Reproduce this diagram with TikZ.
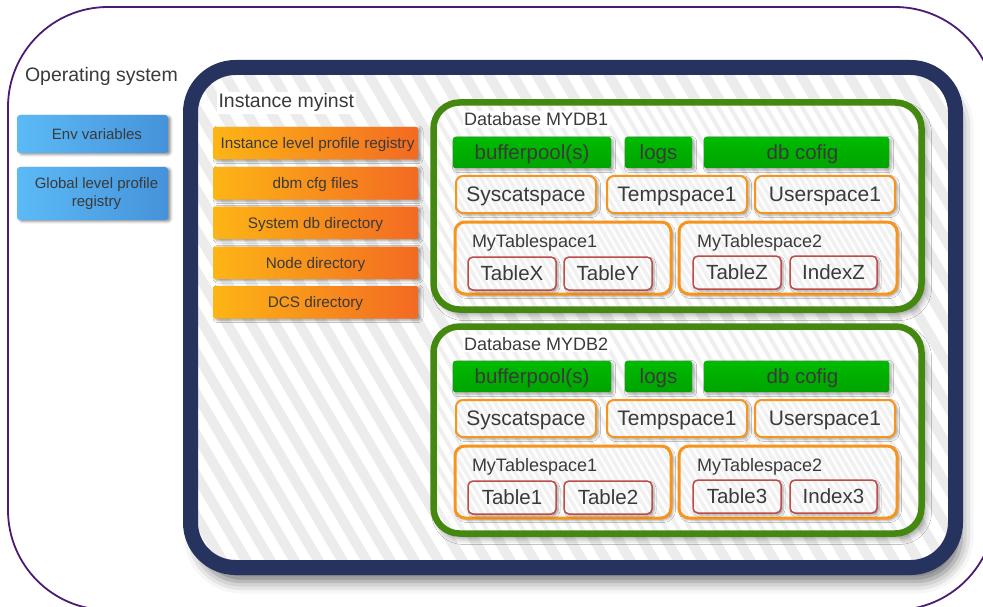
\documentclass[tikz,border=0pt]{standalone}
\usepackage{fontspec}
\setmainfont{Liberation Sans}
\usetikzlibrary{shadows.blur,calc}

\definecolor{ospurple}{HTML}{4B1C73}
\definecolor{navy}{HTML}{27335F}
\definecolor{dbgreen}{HTML}{44880F}
\definecolor{greenA}{HTML}{00BB00}
\definecolor{greenB}{HTML}{00A300}
\definecolor{blueA}{HTML}{5CBAF6}
\definecolor{blueB}{HTML}{4592DA}
\definecolor{orangeA}{HTML}{FDB515}
\definecolor{orangeB}{HTML}{F36A22}
\definecolor{tsorange}{HTML}{F7941E}
\definecolor{tabred}{HTML}{BF4B48}
\definecolor{txtdark}{HTML}{3A3A3A}
\definecolor{stripegray}{HTML}{ECECEC}
\definecolor{paleband}{HTML}{EFEFEF}
\definecolor{boxgray}{HTML}{F1F1F1}

% diagonal hatching drawn inside the current path picture:
% #1 period, #2 stripe width, #3 colour, #4..#5 index range
\newcommand\stripefill[5]{%
  \foreach \k in {#4,...,#5}
    \draw[#3, line width=#2]
      ($(path picture bounding box.north west)+(\k*#1,-10)$) -- ++(600,1020);}

\begin{document}
\begin{tikzpicture}[x=1pt, y=-1pt,
  every node/.style={text=txtdark, inner sep=0pt, outer sep=0pt},
  osframe/.style={draw=ospurple, line width=1.8pt, rounded corners=100pt},
  biglabel/.style={anchor=base west, font=\fontsize{19.5}{22}\selectfont},
  osbox/.style={anchor=north west, rounded corners=3pt, left color=blueA, right color=blueB,
    minimum width=151pt, align=center, font=\fontsize{15}{18}\selectfont,
    blur shadow={shadow xshift=2.5pt, shadow yshift=-1.5pt, shadow blur radius=2.5pt, shadow opacity=45}},
  instbox/.style={anchor=north west, draw=navy, line width=15pt, fill=white, rounded corners=45pt,
    path picture={\stripefill{24}{10pt}{stripegray}{-14}{33}},
    blur shadow={shadow xshift=6pt, shadow yshift=-14pt, shadow blur radius=12pt, shadow opacity=55}},
  instlabel/.style={anchor=base west, fill=white, inner sep=2pt, font=\fontsize{19.5}{22}\selectfont},
  cfgbox/.style={anchor=north west, rounded corners=2pt, left color=orangeA, right color=orangeB,
    minimum width=205pt, minimum height=32.5pt, text depth=0pt, font=\fontsize{15.3}{18}\selectfont,
    blur shadow={shadow xshift=2.5pt, shadow yshift=-1.5pt, shadow blur radius=2.5pt, shadow opacity=40}},
  dbbox/.style={anchor=north west, draw=dbgreen, line width=6.5pt, fill=white, rounded corners=26pt,
    minimum width=488pt, minimum height=207pt,
    path picture={\stripefill{12}{4pt}{paleband}{-12}{43}},
    blur shadow={shadow xshift=4pt, shadow yshift=-5pt, shadow blur radius=6pt, shadow opacity=40}},
  dblabel/.style={anchor=base west, fill=white, inner sep=1.5pt, font=\fontsize{18}{20}\selectfont},
  gbox/.style={anchor=north west, rounded corners=2pt, top color=greenA, bottom color=greenB,
    minimum height=31pt, text depth=0pt, font=\fontsize{20.5}{23}\selectfont,
    blur shadow={shadow xshift=2pt, shadow yshift=-2pt, shadow blur radius=2.5pt, shadow opacity=35}},
  tsbox/.style={anchor=north west, draw=tsorange, line width=2pt, fill=boxgray, rounded corners=7pt,
    minimum width=140pt, minimum height=37pt, text depth=0pt, font=\fontsize{21}{23}\selectfont,
    path picture={\stripefill{7}{2.2pt}{white}{-8}{26}},
    blur shadow={shadow xshift=2pt, shadow yshift=-2pt, shadow blur radius=2.5pt, shadow opacity=35}},
  usrbox/.style={anchor=north west, draw=tsorange, line width=3pt, fill=boxgray, rounded corners=10pt,
    minimum height=72pt,
    path picture={\stripefill{7}{2.2pt}{white}{-12}{36}},
    blur shadow={shadow xshift=2pt, shadow yshift=-2pt, shadow blur radius=2.5pt, shadow opacity=35}},
  uslabel/.style={anchor=base west, font=\fontsize{18}{20}\selectfont},
  tabbox/.style={anchor=north west, draw=tabred, line width=1.5pt, fill=boxgray, rounded corners=5pt,
    minimum height=33pt, text depth=0pt, font=\fontsize{20.5}{23}\selectfont,
    path picture={\stripefill{7}{2.2pt}{white}{-6}{16}},
    blur shadow={shadow xshift=2pt, shadow yshift=-2pt, shadow blur radius=2pt, shadow opacity=35}}
]
\useasboundingbox (0,0) rectangle (983,607);

% operating system frame
\node[osframe, anchor=north west, minimum width=987pt, minimum height=603pt] (os) at (8,7) {};
\node[biglabel] (oslabel) at (25,82) {Operating system};
\node[osbox, minimum height=38pt] (env) at (17,115) {\hspace*{9pt}Env variables};
\node[osbox, minimum height=53pt] (glob) at (17,167)
  {\hspace*{8pt}Global level profile\\\hspace*{8pt}registry};

% instance container
\node[instbox, minimum width=765pt, minimum height=500pt] (inst) at (190.5,67.5) {};
\node[instlabel] (instlabel) at (216.5,108) {Instance myinst};

% instance level files
\node[cfgbox] (ilpr) at (213,127) {\hspace*{4pt}Instance level profile registry};
\node[cfgbox] (dbm)  at (213,167) {dbm cfg files};
\node[cfgbox] (sysd) at (213,206.5) {System db directory};
\node[cfgbox] (noded) at (213,246.5) {Node directory};
\node[cfgbox] (dcs)  at (213,286) {DCS directory};

% two databases with the same layout
\foreach \p/\dy/\db/\ta/\tb/\tc/\td in
  {a/0/MYDB1/TableX/TableY/TableZ/IndexZ, b/224/MYDB2/Table1/Table2/Table3/Index3}{
  \begin{scope}[shift={(0,\dy)}]
    \node[dbbox] (\p-db) at (433.5,102.5) {};
    \node[dblabel] (\p-title) at (462.5,126) {Database \db};
    \node[gbox, minimum width=158pt] (\p-buf) at (453,137) {bufferpool(s)};
    \node[gbox, minimum width=67pt] (\p-logs) at (625,137) {logs};
    \node[gbox, minimum width=185pt] (\p-cfg) at (704,137) {\hspace{12pt}db cofig};
    \node[tsbox] (\p-sys) at (456,176) {Syscatspace};
    \node[tsbox] (\p-temp) at (607,176) {Tempspace1};
    \node[tsbox] (\p-user) at (755,176) {Userspace1};
    \node[usrbox, minimum width=216pt] (\p-ts1) at (455,222) {};
    \node[uslabel] (\p-ts1l) at (472,247) {MyTablespace1};
    \node[usrbox, minimum width=218pt] (\p-ts2) at (679,222) {};
    \node[uslabel] (\p-ts2l) at (697,247) {MyTablespace2};
    \node[tabbox, minimum width=88pt] (\p-t1) at (468,257) {\ta};
    \node[tabbox, minimum width=88pt] (\p-t2) at (564,257) {\tb};
    \node[tabbox, minimum width=88pt] (\p-t3) at (693,256) {\tc};
    \node[tabbox, minimum width=87pt] (\p-t4) at (790,256) {\td};
  \end{scope}
}
\end{tikzpicture}
\end{document}
